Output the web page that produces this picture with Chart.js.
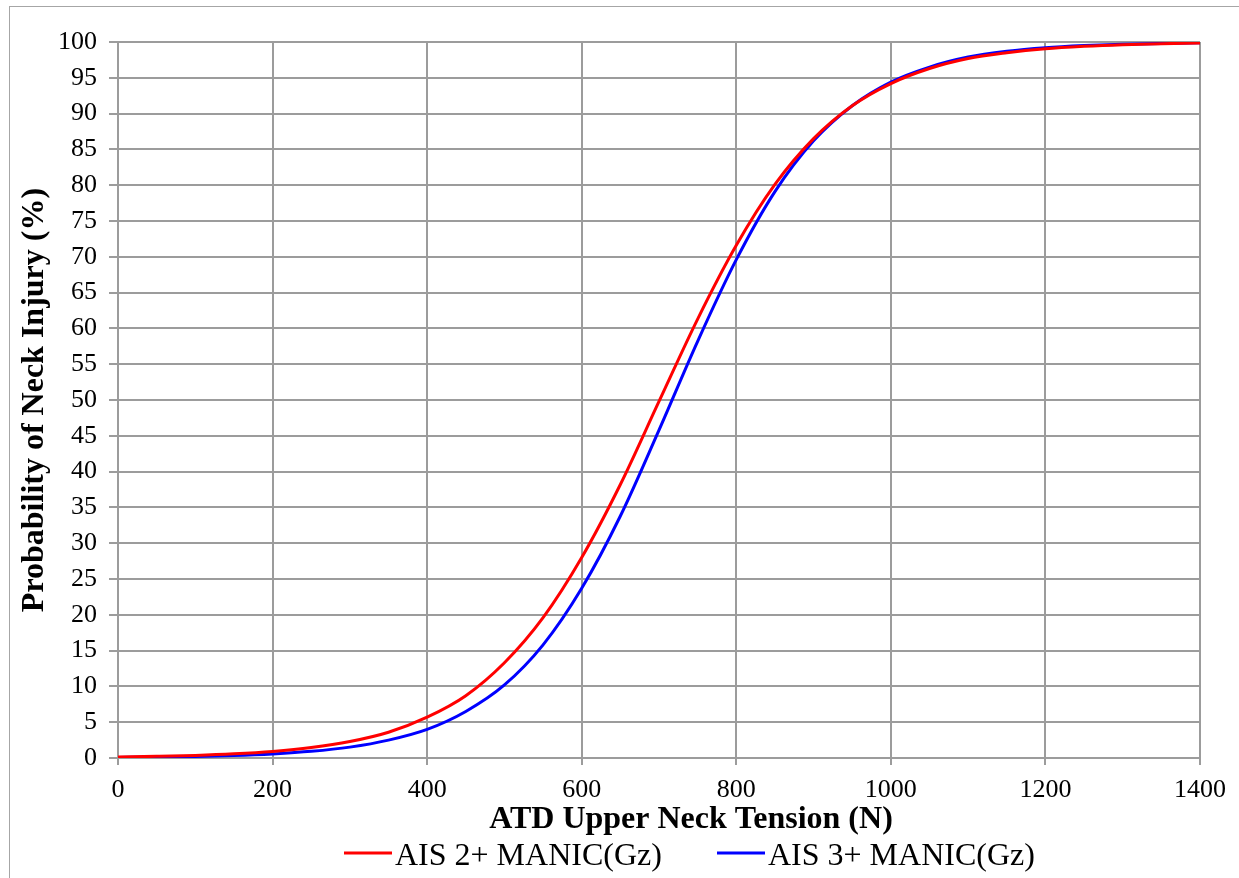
<!DOCTYPE html>
<html>
<head>
<meta charset="utf-8">
<script src="https://cdn.jsdelivr.net/npm/chart.js@4/dist/chart.umd.min.js"></script>
<style>
  html, body { margin: 0; padding: 0; background: #fff; overflow: hidden; }
  #wrap { position: relative; width: 1239px; height: 878px; }
  #frame { position: absolute; left: 9px; top: 6px; width: 1400px; height: 1000px; border: 1.5px solid #a6a6a6; box-sizing: border-box; pointer-events: none; }
  canvas { position: absolute; left: 0; top: 0; }
</style>
</head>
<body>
<div id="wrap">
  <canvas id="c" width="1239" height="878"></canvas>
  <div id="frame"></div>
</div>
<script>
// Data
const tension = [0, 50, 100, 150, 200, 250, 300, 350, 400, 450, 500, 550, 600, 650, 700,
                 750, 800, 850, 900, 950, 1000, 1050, 1100, 1150, 1200, 1250, 1300, 1350, 1400];
const ais2 = [0.14, 0.23, 0.36, 0.58, 0.92, 1.46, 2.3, 3.6, 5.7, 8.7, 13.3, 19.6, 28.0, 38.2, 49.8,
              61.3, 71.6, 80.1, 86.5, 91.1, 94.2, 96.3, 97.7, 98.5, 99.06, 99.4, 99.63, 99.77, 99.85];
const ais3 = [0.08, 0.13, 0.21, 0.34, 0.57, 0.93, 1.52, 2.5, 4.0, 6.5, 10.2, 15.8, 23.7, 33.8, 45.8,
              58.2, 69.6, 79.1, 86.2, 91.1, 94.4, 96.5, 97.9, 98.7, 99.2, 99.5, 99.7, 99.8, 99.9];
const seriesNames = ['AIS 2+ MANIC(Gz)', 'AIS 3+ MANIC(Gz)'];
const seriesColors = ['#ff0000', '#0000ff'];
const xTitle = 'ATD Upper Neck Tension (N)';
const yTitle = 'Probability of Neck Injury (%)';

const toPoints = ys => tension.map((x, i) => ({ x: x, y: ys[i] }));

const gridColor = '#9c9c9c';
const serif = '"Liberation Serif", "Times New Roman", serif';

const overlay = {
  id: 'overlay',
  afterDraw(chart) {
    const ctx = chart.ctx;
    ctx.save();
    // x axis title
    ctx.fillStyle = '#000';
    ctx.font = 'bold 32px ' + serif;
    ctx.textAlign = 'center';
    ctx.textBaseline = 'alphabetic';
    ctx.fillText(xTitle, 691, 828);
    // legend
    ctx.font = '32px ' + serif;
    ctx.textAlign = 'left';
    const starts = [344, 717];
    chart.data.datasets.forEach((ds, i) => {
      const x0 = starts[i];
      ctx.strokeStyle = ds.borderColor;
      ctx.lineWidth = 3;
      ctx.beginPath();
      ctx.moveTo(x0, 853);
      ctx.lineTo(x0 + 48, 853);
      ctx.stroke();
      ctx.fillStyle = '#000';
      ctx.fillText(ds.label, x0 + 51, 865);
    });
    ctx.restore();
  }
};

new Chart(document.getElementById('c'), {
  type: 'line',
  data: {
    datasets: [
      { label: seriesNames[0], data: toPoints(ais2), borderColor: seriesColors[0], backgroundColor: seriesColors[0],
        borderWidth: 3, pointRadius: 0, cubicInterpolationMode: 'monotone', fill: false },
      { label: seriesNames[1], data: toPoints(ais3), borderColor: seriesColors[1], backgroundColor: seriesColors[1],
        borderWidth: 3, pointRadius: 0, cubicInterpolationMode: 'monotone', fill: false }
    ]
  },
  options: {
    responsive: false,
    animation: false,
    events: [],
    layout: { padding: { left: 0, top: 42, right: 39, bottom: 0 } },
    plugins: { legend: { display: false }, tooltip: { enabled: false }, title: { display: false } },
    scales: {
      x: {
        type: 'linear', min: 0, max: 1400,
        ticks: { stepSize: 200, color: '#000', padding: 10, callback: v => String(v),
                 font: { family: serif, size: 26 } },
        grid: { color: gridColor, lineWidth: 2, tickLength: 7, tickColor: gridColor },
        border: { color: gridColor, width: 2 },
        afterFit(scale) { scale.height = 120; }
      },
      y: {
        min: 0, max: 100,
        ticks: { stepSize: 5, color: '#000', padding: 12, callback: v => String(v),
                 font: { family: serif, size: 26 } },
        grid: { color: gridColor, lineWidth: 2, tickLength: 9, tickColor: gridColor },
        border: { color: gridColor, width: 2 },
        title: { display: true, text: yTitle, color: '#000', padding: { top: 16, bottom: 0 },
                 font: { family: serif, size: 32, weight: 'bold' } },
        afterFit(scale) { scale.width = 118; }
      }
    }
  },
  plugins: [overlay]
});
</script>
</body>
</html>
